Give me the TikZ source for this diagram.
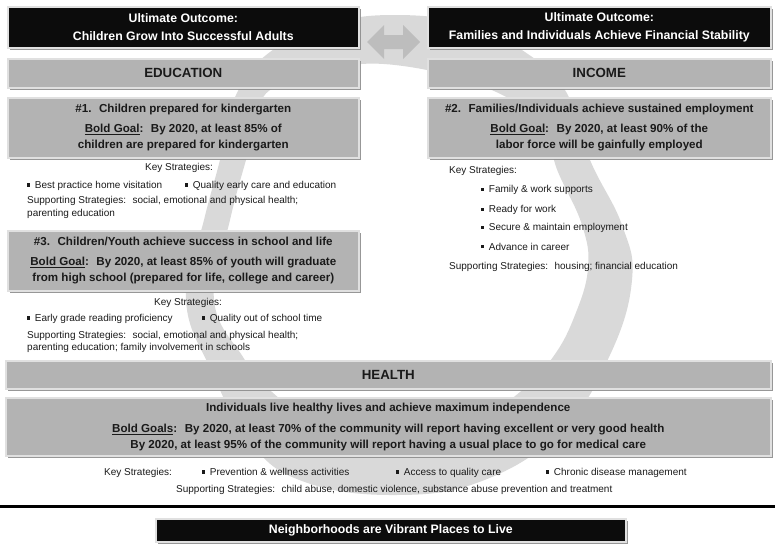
\documentclass[tikz,border=0pt]{standalone}
\usepackage{fontspec}
\setmainfont{Liberation Sans}
\usetikzlibrary{shadows}
\definecolor{ringgray}{HTML}{D9D9D9}
\definecolor{arrowgray}{HTML}{BDBDBD}
\definecolor{panelgray}{HTML}{B3B3B3}
\definecolor{inkdark}{HTML}{1A1A1A}
\definecolor{boxblack}{HTML}{0C0C0C}
\newcommand\bul{\rule[0.2em]{0.32em}{0.32em}\hspace{0.45em}}
\newcommand\outsz{\fontsize{12.3}{16}\selectfont\bfseries}
\newcommand\boldsz{\fontsize{11.6}{16}\selectfont\bfseries}
\newcommand\headsz{\fontsize{13.3}{16}\selectfont\bfseries}
\newcommand\smallsz{\fontsize{10}{13}\selectfont}
\begin{document}
\begin{tikzpicture}[x=1pt,y=-1pt,
  panel/.style={anchor=north west, inner sep=0pt, line width=1.6pt,
    draw=white!88!black, align=center,
    drop shadow={shadow xshift=2pt, shadow yshift=-2.5pt, fill=black!45, opacity=0.9}},
  darkpanel/.style={panel, fill=boxblack, text=white, font=\outsz},
  graypanel/.style={panel, fill=panelgray, text=inkdark, font=\boldsz},
  headpanel/.style={panel, fill=panelgray, text=inkdark, font=\headsz},
  note/.style={anchor=base west, inner sep=0pt, text=inkdark, font=\smallsz},
  notec/.style={note, anchor=base},
]
\useasboundingbox (0,0) rectangle (775,544);

% background cycle ring
\fill[ringgray, even odd rule]
  plot[smooth cycle, tension=0.7] coordinates {
    (395,15) (470,24) (522,50) (565,90) (590,160) (622,225) (632,280)
    (610,355) (562,430) (482,481) (392,495) (302,481) (250,442)
    (212,372) (186,300) (204,220) (220,160) (236,95) (270,52) (330,24)}
  plot[smooth cycle, tension=0.7] coordinates {
    (395,65) (487,88) (540,125) (558,172) (582,225) (588,268) (575,315)
    (553,357) (520,392) (470,424) (395,440) (322,426) (272,392)
    (243,357) (214,300) (230,220) (246,160) (258,120) (270,90) (325,70)};

% double arrow between the two outcomes
\fill[arrowgray] (367,42) -- (384,25) -- (384,35) -- (403,35) -- (403,25)
  -- (420,42) -- (403,59) -- (403,49) -- (384,49) -- (384,59) -- cycle;

% ultimate outcomes
\node[darkpanel, minimum width=351pt, minimum height=41pt] (outL) at (7,6)
  {Ultimate Outcome:\\[2pt]Children Grow Into Successful Adults};
\node[darkpanel, minimum width=343pt, minimum height=41pt] (outR) at (427,6)
  {Ultimate Outcome:\\[2pt]Families and Individuals Achieve Financial Stability};

% column headers
\node[headpanel, minimum width=351pt, minimum height=29pt] (edu) at (7,58) {EDUCATION};
\node[headpanel, minimum width=343pt, minimum height=29pt] (inc) at (427,58) {INCOME};

% goal #1
\node[graypanel, minimum width=351pt, minimum height=60pt] (g1) at (7,97)
  {\#1.~ Children prepared for kindergarten\\[4pt]
   \underline{Bold Goal}:~ By 2020, at least 85\% of\\
   children are prepared for kindergarten};
\node[notec] (k1) at (179,170.5) {Key Strategies:};
\node[note] (k1a) at (27,188.5) {\bul Best practice home visitation};
\node[note] (k1b) at (185,188.5) {\bul Quality early care and education};
\node[note] (s1a) at (27,203.5) {Supporting Strategies:~ social, emotional and physical health;};
\node[note] (s1b) at (27,216.5) {parenting education};

% goal #3
\node[graypanel, minimum width=351pt, minimum height=60pt] (g3) at (7,230)
  {\#3.~ Children/Youth achieve success in school and life\\[4pt]
   \underline{Bold Goal}:~ By 2020, at least 85\% of youth will graduate\\
   from high school (prepared for life, college and career)};
\node[notec] (k3) at (188,305.5) {Key Strategies:};
\node[note] (k3a) at (27,321.5) {\bul Early grade reading proficiency};
\node[note] (k3b) at (202,321.5) {\bul Quality out of school time};
\node[note] (s3a) at (27,338.5) {Supporting Strategies:~ social, emotional and physical health;};
\node[note] (s3b) at (27,350.5) {parenting education; family involvement in schools};

% goal #2
\node[graypanel, minimum width=343pt, minimum height=60pt] (g2) at (427,97)
  {\#2.~ Families/Individuals achieve sustained employment\\[4pt]
   \underline{Bold Goal}:~ By 2020, at least 90\% of the\\
   labor force will be gainfully employed};
\node[note] (k2) at (449,173.5) {Key Strategies:};
\node[note] (k2a) at (481,192.7) {\bul Family \& work supports};
\node[note] (k2b) at (481,212.7) {\bul Ready for work};
\node[note] (k2c) at (481,230.7) {\bul Secure \& maintain employment};
\node[note] (k2d) at (481,250.1) {\bul Advance in career};
\node[note] (s2) at (449,269.6) {Supporting Strategies:~ housing; financial education};

% health
\node[headpanel, minimum width=765pt, minimum height=28pt] (hea) at (5,360) {HEALTH};
\node[graypanel, minimum width=765pt, minimum height=58pt] (gh) at (5,397)
  {Individuals live healthy lives and achieve maximum independence\\[5pt]
   \underline{Bold Goals}:~ By 2020, at least 70\% of the community will report having excellent or very good health\\
   By 2020, at least 95\% of the community will report having a usual place to go for medical care};
\node[note] (kh) at (104,475.5) {Key Strategies:};
\node[note] (kha) at (202,475.5) {\bul Prevention \& wellness activities};
\node[note] (khb) at (396,475.5) {\bul Access to quality care};
\node[note] (khc) at (546,475.5) {\bul Chronic disease management};
\node[note] (sh) at (176,492) {Supporting Strategies:~ child abuse, domestic violence, substance abuse prevention and treatment};

% separator rule
\coordinate (ruleL) at (0,506);
\coordinate (ruleR) at (775,506);
\draw[line width=3pt, black] (ruleL) -- (ruleR);

% neighborhoods
\node[darkpanel, minimum width=470pt, minimum height=23pt] (nbh) at (155,518)
  {Neighborhoods are Vibrant Places to Live};
\end{tikzpicture}
\end{document}
